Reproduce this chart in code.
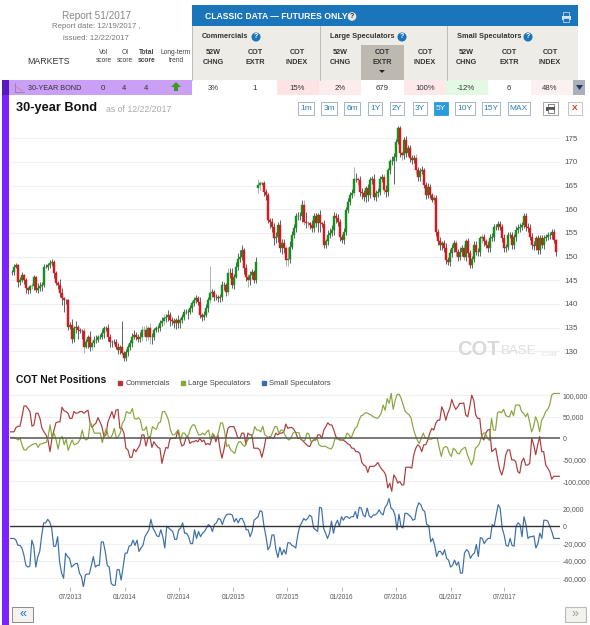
import numpy as np, pandas as pd, matplotlib
matplotlib.use("Agg")
import matplotlib.pyplot as plt, matplotlib.dates as mdates, seaborn as sns
from matplotlib.patches import Rectangle, Polygon
from matplotlib.lines import Line2D

closes_before_roll = [
146.8,147.9,148.2,144.7,145.1,146.1,145.1,143.3,143.0,143.7,
143.7,145.8,143.0,143.3,143.7,144.0,147.9,147.9,148.2,148.6,
148.9,146.5,144.4,144.0,142.3,141.2,140.8,140.8,135.2,135.6,
132.7,134.9,135.2,134.5,134.2,134.2,131.0,132.0,133.1,131.0,
131.7,132.4,132.4,133.1,133.1,133.8,134.9,134.9,133.1,132.0,
132.0,132.0,131.0,130.3,131.0,129.6,128.5,129.9,131.0,131.7,
133.1,133.5,133.1,132.7,133.1,134.5,134.5,133.1,134.9,133.1,
133.1,134.5,134.9,134.9,135.9,136.3,137.0,137.3,137.7,136.6,
136.3,135.9,136.6,135.9,136.6,137.3,138.4,138.4,138.4,139.1,
140.1,140.8,141.2,140.5,137.7,137.3,137.7,139.1,140.8,142.3,
142.6,141.5,141.5,141.2,141.5,144.0,144.0,142.6,146.5,146.5,
144.0,145.8,147.9,149.6,150.0,151.4,147.5,145.8,145.1,146.1,
146.8,145.1,148.9]
closes_after_roll = [
165.1,165.5,165.5,163.7,163.0,157.7,157.4,156.3,153.9,154.2,
156.7,151.8,152.8,151.8,149.3,149.6,152.1,154.6,156.0,158.5,
158.5,158.5,160.9,157.4,157.0,157.0,156.7,156.0,158.5,157.0,
158.8,157.0,156.9,152.5,153.2,154.6,155.0,155.6,158.5,158.1,
157.4,154.2,153.5,155.3,159.9,161.6,163.0,163.4,166.5,166.5,
166.2,163.7,163.4,162.7,164.4,163.0,166.2,166.5,162.7,163.4,
163.7,166.5,166.9,164.1,163.7,168.3,170.1,170.3,171.1,174.3,
177.1,171.8,171.5,174.6,171.8,172.9,170.8,170.4,170.8,168.3,
166.9,168.0,168.3,165.1,163.0,164.8,163.0,162.0,162.3,155.3,
153.2,152.5,152.8,151.8,149.3,148.9,150.7,151.8,152.8,151.0,
150.0,151.0,151.8,150.0,153.2,150.7,148.2,149.6,152.5,151.0,
151.0,153.9,154.2,153.2,152.5,151.8,153.9,154.2,156.3,156.3,
156.9,156.3,153.9,151.8,152.1,154.6,154.6,152.5,154.2,155.6,
156.0,156.3,156.7,158.5,156.3,156.0,154.2,152.5,152.3,153.9,
151.4,153.9,152.5,153.9,154.2,154.6,154.6,155.3,153.5,151.0]

upper_wicks = [
.3,.5,.5,.2,.6,.7,.3,.3,.3,.3, .8,.4,.2,1.2,1.0,.6,.5,.6,.5,.6,
.5,.3,.5,.4,1.2,1.0,.3,.3,.2,.5, 1.2,.5,1.2,.3,.5,.6,.7,.7,.4,1.2,
.5,.8,1.0,.4,.6,.9,.5,.5,.8,.6, .4,.5,.6,.8,.3,5.5,.5,.6,.5,.6,
.8,.9,.6,.5,1.0,.8,.8,1.0,.4,1.0, .8,.5,.5,.6,.7,1.0,.9,.5,1.1,.6,
.7,.8,.5,1.0,.4,.5,.6,.5,.6,.6, .5,.6,.6,.4,.9,.4,.8,.9,.6,5.8,
.6,.4,.5,.4,.6,.9,.6,.5,1.0,1.2, 1.0,.6,.9,1.2,1.5,1.0,.4,.9,.6,.8,
.5,.4,1.0,
1.2,.5,.3,.4,.5,.4,.4,.7,.9,.9, .6,1.0,1.0,.9,.5,2.5,1.1,.8,.9,.7,
1.0,1.0,1.0,1.1,2.0,.6,.4,1.0,.7,.8, .4,1.0,.4,.9,.5,1.0,1.0,1.0,1.0,.7,
.9,.5,.5,.7,.6,.7,.7,.8,2.5,1.2, .4,.9,.7,.6,.5,.9,.6,.6,1.0,.7,
.7,.5,.6,.5,1.0,.4,.5,1.0,.7,.5, .5,.6,.5,.6,.8,.6,.6,.6,.6,.8,
.7,.7,.8,.4,.6,.8,.5,.5,.7,.7, .5,.9,.6,.7,1.0,.6,.9,.8,.7,.7,
.7,1.0,.7,.8,.6,.8,.7,.6,.9,.8, .8,.5,.6,.6,.6,.8,.8,.7,.6,.5,
.6,.6,.6,.8,.5,.5,.5,.7,.5,.8, .8,.9,.6,.7,.7,.8,.8,.8,.8,.5,
.7,.6,.7,.6,.5,.6,.5,.5,.5,.2]
lower_wicks = [
.6,.6,.4,1.1,.6,.5,.8,1.0,.8,.7, .6,.8,.4,.6,.6,1.0,.5,.3,.7,.6,
.5,1.0,.5,.9,.9,1.4,2.5,.9,.8,.4, 1.0,.8,1.0,1.8,.4,1.6,1.4,.4,1.3,1.0,
.7,.9,.6,.4,.6,.6,.9,.6,1.0,1.0, 1.0,.5,.5,.8,.9,.2,.6,.6,.8,.7,
.8,.6,.8,.7,.8,.9,1.2,1.0,.8,1.5, 1.5,.7,.5,.9,.7,.6,.7,.9,.8,1.2,
.8,.9,1.1,1.0,1.0,.7,.6,.5,1.5,.6, .7,.5,.6,.8,.7,1.0,.6,.4,.7,.6,
.8,.9,.6,.7,.8,.8,1.0,.9,.7,1.0, .7,.8,.4,.7,.8,.8,1.2,.9,1.5,1.0,
.9,.7,.6,
1.0,1.0,.4,.9,1.0,.5,1.3,1.0,1.5,1.0, 1.2,.8,1.3,1.1,1.3,1.3,1.0,.5,.7,.9,
.8,.8,1.2,.7,1.0,.8,.9,.9,.8,.7, 1.8,1.8,.7,.7,.6,.8,.6,.6,1.0,.9,
1.0,.8,.7,.9,.7,.6,.7,.6,.5,.7, 1.0,.8,1.2,1.0,1.1,1.3,.7,.9,.8,.9,
.7,.7,.7,.9,1.0,.9,.8,.7,5.0,1.0, .6,.8,1.0,.8,.7,.6,.9,.8,.7,.9,
.9,1.0,.6,.7,.8,.7,.7,.5,.8,1.0, .8,1.0,1.0,.9,.8,.7,.9,.8,.9,.8,
.9,.8,.9,.8,1.0,.7,.6,.7,.8,.7, .8,.8,1.0,.9,.7,.8,.9,.6,.8,.7,
.7,.7,.9,.8,.8,.8,.7,.9,.8,.8, .7,.8,.7,.7,.8,.9,.7,.8,.9,.8,
.8,.9,.6,.8,.7,.6,.8,.9,.6,.8]
grey_wick_candles = [10,36,40,65,66,67,68,69,76,99,108,118,123,124,137,138,146,148,171,173,186,195,202,211,222,226,235]

commercials_k = [
15,15,15,25,28,28,50,75,75,69,62,28,31,58,58,46,23,15,8,-4,-31,0,19,36,38,38,72,64,62,58,46,46,62,58,59,62,62,58,62,65,
38,25,31,35,48,38,27,4,8,38,50,62,46,65,67,23,23,12,-23,-27,-44,-44,-25,-31,-23,-15,8,8,-18,0,4,-21,-8,-15,-21,-23,-58,-38,-21,-23,
-2,0,0,0,19,-2,-18,-15,0,4,-12,-8,-8,-5,-8,0,-8,-4,-15,-12,-15,0,8,-8,8,-23,-46,-27,0,23,27,27,27,15,0,0,12,12,-15,12,
8,8,-23,-23,-23,-27,-44,-25,0,0,4,0,0,12,8,12,12,15,33,23,
25,25,21,12,0,0,-4,-8,-13,-18,-19,-8,-4,-4,8,8,0,19,27,36,31,31,19,4,0,-4,-4,-5,-8,-13,-15,-23,-23,-31,-31,-35,-56,-62,-65,-79,
-65,-65,-65,-62,-56,-65,-72,-77,-85,-115,-104,-123,-85,-92,-104,-100,-108,-108,-67,-67,-67,-69,-38,-23,-15,-19,-31,-15,-15,-4,12,23,19,35,42,42,73,62,42,58,
69,90,77,67,73,81,81,82,54,50,73,100,88,54,46,46,4,-4,12,19,21,-31,-27,-23,-50,-73,-85,-69,-38,-27,-27,-50,-50,-54,-77,-81,
-54,-46,-62,-62,-58,0,-15,-38,-15,4,-31,-31,-62,-69,-77,-95,-88,-88,-88,-88]
large_specs_k = [
2,2,2,0,-4,0,-15,-27,-27,-21,-18,-15,-13,-12,-21,-13,-13,-10,-10,4,31,0,12,-4,-25,0,4,-15,-2,-28,-15,-4,-15,-13,-10,-2,19,0,-4,0,
38,27,12,12,12,12,-10,8,23,4,0,8,23,0,4,12,35,42,62,59,58,69,46,44,48,42,19,19,27,0,4,27,23,21,35,38,62,62,54,42,
19,8,8,15,19,-4,12,12,4,8,23,31,31,19,8,8,12,8,15,19,-4,12,4,0,15,36,35,15,-19,-15,-27,-31,-35,-19,-8,-8,-15,-19,-8,0,
0,8,27,19,19,15,28,8,5,0,4,15,27,27,12,19,19,8,0,
-4,0,12,15,13,13,-2,-5,-5,12,10,-8,-5,0,0,-15,-18,-19,-18,-21,-23,-25,-18,0,-2,0,-2,-4,0,12,8,0,12,23,27,42,52,54,59,59,
56,54,50,48,46,50,58,77,65,92,81,104,67,88,102,102,92,77,62,58,54,46,23,8,-4,-12,0,12,0,0,-2,-2,0,0,0,-23,-42,-23,-19,-21,
-35,-42,-23,-27,-35,-36,-27,-23,-21,-38,-50,-62,-50,-23,-19,-12,4,12,12,0,-5,46,19,19,59,62,59,67,54,50,50,64,52,77,77,77,
62,58,50,58,38,15,27,50,38,15,42,50,62,67,77,100,104,104,104,104]
small_specs_k = [
-14,-14,-14,-16,-22,-22,-25,-33,-45,-47,-46,-16,-23,-47,-35,-29,-10,4,4,8,5,-2,-23,-23,-12,-41,-54,-60,-31,-35,-37,-47,-45,-43,-43,-54,-58,-70,-56,-55,
-55,-45,-35,-47,-45,-45,-18,-18,-29,-45,-47,-66,-68,-68,-50,-50,-62,-47,-31,-31,-23,-22,-16,-22,-16,-29,-25,-22,-12,-8,-4,8,-2,-6,-11,-12,-4,-12,-25,0,
-2,-4,-6,-15,-15,-4,-2,4,-8,-8,-12,-20,-20,-4,-14,-6,-12,-8,-6,-2,2,0,-6,2,4,9,8,2,9,13,14,14,13,5,9,4,9,9,4,-4,
-4,-12,-6,7,9,11,18,17,0,-12,-27,-23,-10,-10,-27,-36,-24,-33,-27,-32,
-19,-19,-22,-23,-25,-10,0,4,9,7,9,13,11,-2,-4,-6,22,21,-2,-8,-14,-8,6,-8,2,7,0,11,7,11,11,9,11,11,17,9,22,21,13,11,
21,12,10,13,13,15,19,15,13,22,25,32,21,19,13,-4,14,0,-2,15,15,13,11,7,8,21,27,25,19,17,2,1,-18,-14,-22,-35,-29,-29,-33,-27,
-37,-39,-47,-45,-39,-45,-41,-54,-54,-31,-27,-29,-37,-33,-31,-21,-35,-13,-14,-20,-16,-14,-14,2,0,13,25,21,-2,-10,-22,-23,-14,-22,-23,0,4,2,-12,11,
2,-14,-12,-12,-11,-25,-20,-8,-14,7,7,6,0,-6,-14,-14,-14,-14]

price_ticks = [130,135,140,145,150,155,160,165,170,175]
net_ticks = [-100000,-50000,0,50000,100000]
small_ticks = [-60000,-40000,-20000,0,20000]
date_ticks = ["2013-07-01","2014-01-01","2014-07-01","2015-01-01","2015-07-01","2016-01-01","2016-07-01","2017-01-01","2017-07-01"]
range_buttons = ["1m","3m","6m","1Y","2Y","3Y","5Y","10Y","15Y","MAX"]
column_heads = ["52W\nCHNG","COT\nEXTR","COT\nINDEX"]*3
row_values = ["3%","1","15%","2%","679","100%","-12%","6","48%"]

W,H = 590,625
sns.set_theme(style="white")
plt.rcParams["font.family"] = ["Liberation Sans","DejaVu Sans"]
fig = plt.figure(figsize=(W/100,H/100),dpi=100,facecolor="white")

def axpx(l,t,r,b):
    a = fig.add_axes([l/W,1-b/H,(r-l)/W,(b-t)/H],facecolor="none")
    sns.despine(ax=a,left=True,bottom=True,right=True,top=True)
    return a
def T(x,y,s,size=5.5,color="#333",ha="center",va="center",**k):
    fig.text(x/W,1-y/H,s,fontsize=size,color=color,ha=ha,va=va,**k)
def R(x0,y0,x1,y1,color,**k):
    fig.add_artist(Rectangle((x0/W,1-y1/H),(x1-x0)/W,(y1-y0)/H,transform=fig.transFigure,facecolor=color,edgecolor=k.pop("ec","none"),lw=k.pop("lw",0),**k))
def P(pts,color):
    fig.add_artist(Polygon([(x/W,1-y/H) for x,y in pts],closed=True,transform=fig.transFigure,facecolor=color,edgecolor="none"))
def L(x0,y0,x1,y1,color,lw=0.7):
    fig.add_artist(Line2D([x0/W,x1/W],[1-y0/H,1-y1/H],transform=fig.transFigure,color=color,lw=lw))
def printer(cx,cy,color,paper):
    R(cx-3,cy-4.5,cx+3,cy-1,paper,ec=color,lw=0.5)
    R(cx-4.5,cy-1,cx+4.5,cy+2.5,color)
    R(cx-3,cy+1,cx+3,cy+4.5,paper,ec=color,lw=0.5)

# ---- header table
R(2,80,9,625,"#7b22ff")
R(192,5,578,26,"#1b75bb")
R(192,26,578,80,"#eeece6")
R(361,45,404,80,"#bdb9b1")
R(9,80,192,95,"#c9a0f5"); R(2,80,9,95,"#5a18c0")
for x0,x1,c in [(277,319,"#fde3e3"),(319,361,"#fdecec"),(404,446,"#fde9e9"),(446,488,"#e3f9e3"),(531,573,"#fdf0f0")]:
    R(x0,80,x1,95,c)
R(573,80,585,95,"#a9b1b9")
P([(576,85),(583,85),(579.5,90)],"#1f3a68")
P([(379,70),(385,70),(382,73)],"#222")
for x in [192,320,447]:
    L(x,26,x,80,"#bbbbb5",0.7)
T(97,16,"Report 51/2017",7.2,"#888")
T(96,27,"Report date: 12/19/2017 ,",5.6,"#777")
T(96,38,"issued: 12/22/2017",5.6,"#777")
T(48,62,"MARKETS",6.3,"#333")
for x,a,b,w in [(104,"Vol","score","normal"),(125,"OI","score","normal"),(147,"Total","score","bold"),(176,"Long-term","trend","normal")]:
    T(x,52,a,4.8,"#444",weight=w); T(x,60,b,4.8,"#444",weight=w)
T(205,16.5,"CLASSIC DATA \u2014 FUTURES ONLY",6.2,"white",ha="left",weight="bold")
T(352,16.5,"?",5,"#333",weight="bold",bbox=dict(boxstyle="circle,pad=0.12",fc="#e6e6e0",ec="none"))
printer(566,17,"#d8e2ee","#1b75bb")
for x,s,qx in [(202,"Commercials",256),(330,"Large Speculators",402),(457,"Small Speculators",528)]:
    T(x,37,s,5.3,"#333",ha="left",weight="bold")
    T(qx,37,"?",5,"white",weight="bold",bbox=dict(boxstyle="circle,pad=0.15",fc="#1b75bb",ec="none"))
for x,s in zip([213,255,297,340,382,425,466,509,550],column_heads):
    a,b = s.split("\n")
    T(x,53,a,5.2,"#333",weight="bold"); T(x,63,b,5.2,"#333",weight="bold")
for x,s in zip([213,255,297,340,382,425,466,509,550],row_values):
    T(x,88,s,5.6,"#333")
T(55,88,"30-YEAR BOND",5.2,"#333")
for x,s in [(103,"0"),(124,"4"),(146,"4")]:
    T(x,88,s,5.6,"#333")
P([(171,87),(176,82),(181,87),(178,87),(178,91),(174,91),(174,87)],"#3c9a1e")
L(15,83,15,92,"#8a70a8",0.5); L(15,92,24,92,"#8a70a8",0.5); L(15,86,22,91,"#d08080",0.5)

# ---- title row
T(16,108,"30-year Bond",9.2,"#111",ha="left",weight="bold")
T(106,109,"as of 12/22/2017",6.3,"#aaa",ha="left")
btn_centers = [306,329,352,375,397,420,441,465,491,519]
btn_widths = [16,16,16,14,14,14,14,20,18,22]
for x,w,s in zip(btn_centers,btn_widths,range_buttons):
    on = s=="5Y"
    R(x-w/2,102,x+w/2,115,"#2a9bd8" if on else "white",ec="#2a9bd8" if on else "#9ab",lw=0.6)
    T(x,108.5,s,6,"#e8f4fb" if on else "#2a7fb8")
R(543,102,558,115,"white",ec="#999",lw=0.6); printer(550.5,108.5,"#555","white")
R(568,102,582,115,"white",ec="#bbb",lw=0.6); T(575,108.5,"X",6,"#e03a1a",weight="bold")

# ---- shared x scale
xlim = mdates.date2num([pd.Timestamp("2012-12-10"),pd.Timestamp("2018-01-04")])
tick_dates = pd.to_datetime(date_ticks)

# ---- candles
closes = np.array(closes_before_roll+closes_after_roll)
opens = np.r_[closes[0],closes[:-1]]
opens[len(closes_before_roll)] = closes_after_roll[0]-0.6
highs = np.maximum(opens,closes)+np.array(upper_wicks)
lows = np.minimum(opens,closes)-np.array(lower_wicks)
candle_dates = pd.date_range("2012-12-16","2017-12-21",periods=len(closes))
ax = axpx(10,125,560,368)
ax.set_xlim(*xlim)
ax.set_ylim(175-(368-138.3)/4.733,175+(138.3-125)/4.733)
wick_colors = ["#909090" if i in grey_wick_candles else "#222222" for i in range(len(closes))]
ax.vlines(candle_dates,lows,highs,colors=wick_colors,lw=0.5,zorder=3)
up = closes>=opens
ax.bar(candle_dates,np.abs(closes-opens),bottom=np.minimum(opens,closes),width=5.6,
       color=np.where(up,"#16901c","#e0141c"),linewidth=0.3,edgecolor=np.where(up,"#16901c","#e0141c"),zorder=4)
ax.set_yticks(price_ticks); ax.yaxis.tick_right()
ax.tick_params(axis="y",length=0,labelsize=5.8,labelcolor="#555",pad=3)
ax.set_xticks([]); ax.grid(False)
for v in price_ticks:
    ax.axhline(v,color="#f0f0f0",lw=0.9,zorder=0)
ax.set_xlabel(""); ax.set_ylabel("")

# ---- watermark
T(457,349.5,"COT",14.5,"#d9d9d9",ha="left",weight="bold")
T(501,351,"BASE",9.5,"#dedede",ha="left")
T(540,354,".COM",4.6,"#dedede",ha="left")

# ---- net positions
line_dates = lambda v: pd.date_range("2012-12-10","2018-01-03",periods=len(v))
ax2 = axpx(10,385,560,495)
ax2.set_xlim(*xlim)
ax2.set_ylim(-(495-438.3)/0.4315*1000,(438.3-385)/0.4315*1000)
for v in net_ticks:
    ax2.axhline(v,color="#f0f0f0" if v else "#555",lw=0.9 if v else 1.1,zorder=5 if v==0 else 0)
series = [("Commercials",commercials_k,"#ad3b3b"),("Large Speculators",large_specs_k,"#86a53c")]
for name,vals,c in series:
    df = pd.DataFrame({"date":line_dates(vals),"value":np.array(vals)*1000.0})
    sns.lineplot(data=df,x="date",y="value",ax=ax2,color=c,lw=0.85,legend=False,errorbar=None,zorder=3)
ax2.set_yticks(net_ticks); ax2.yaxis.tick_right()
ax2.yaxis.set_major_formatter(matplotlib.ticker.FuncFormatter(lambda v,_:f"{int(v):,}"))
ax2.tick_params(axis="y",length=0,labelsize=5,labelcolor="#555",pad=2)
ax2.set_xticks([]); ax2.set_xlabel(""); ax2.set_ylabel("")
T(16,380,"COT Net Positions",7.4,"#111",ha="left",weight="bold")
handles = [Line2D([],[],marker="s",ls="",ms=3.2,color=c) for c in ["#ad3b3b","#86a53c","#3b6ea8"]]
leg = fig.legend(handles,["Commercials","Large Speculators","Small Speculators"],ncol=3,frameon=False,
    loc="center left",bbox_to_anchor=(112/W,1-383.5/H),fontsize=5.5,labelcolor="#444",
    columnspacing=1.15,handletextpad=0.05,borderpad=0,handlelength=1.2)

# ---- small speculators
ax3 = axpx(10,497,560,587)
ax3.set_xlim(*xlim)
ax3.set_ylim(-(587-526.3)/0.867*1000,(526.3-497)/0.867*1000)
for v in small_ticks:
    ax3.axhline(v,color="#f0f0f0" if v else "#333",lw=0.9 if v else 1.0,zorder=5 if v==0 else 0)
df = pd.DataFrame({"date":line_dates(small_specs_k),"value":np.array(small_specs_k)*1000.0})
sns.lineplot(data=df,x="date",y="value",ax=ax3,color="#3b6ea8",lw=0.85,legend=False,errorbar=None,zorder=3)
ax3.set_yticks(small_ticks); ax3.yaxis.tick_right()
ax3.yaxis.set_major_formatter(matplotlib.ticker.FuncFormatter(lambda v,_:f"{int(v):,}"))
ax3.tick_params(axis="y",length=0,labelsize=5,labelcolor="#555",pad=2)
ax3.set_xticks(tick_dates); ax3.xaxis.set_major_formatter(mdates.DateFormatter("%m/%Y"))
ax3.tick_params(axis="x",bottom=True,length=3.2,width=0.5,color="#999",labelsize=4.7,labelcolor="#555",pad=1.5)
ax3.set_xlabel(""); ax3.set_ylabel("")

# ---- paging buttons
R(12,607,33,622,"#f3f2ee",ec="#777",lw=0.6); T(22.5,614,"\u00ab",9,"#1b75bb")
R(565,607,586,622,"#f3f2ee",ec="#bbb",lw=0.8); T(575.5,614,"\u00bb",9,"#999")

fig.savefig("out.png",dpi=100)
